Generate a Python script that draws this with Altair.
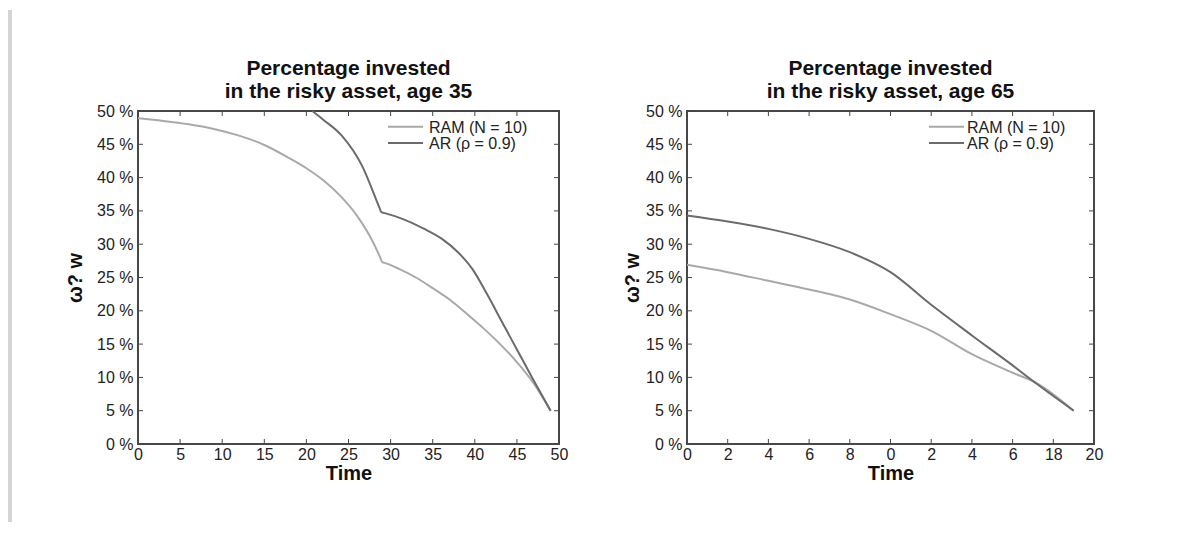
import altair as alt
import pandas as pd

FONT = "Liberation Sans"
LIGHT = "#a9a9a9"
DARK = "#6b6b6b"
FRAME = "#474747"
TXT = "#222222"

SERIES = ["RAM", "AR"]
LEGEND_LABELS = ["RAM (N = 10)", "AR (\u03c1 = 0.9)"]

# ---- Panel 1: age 35 ----
p1_ram_t = [0, 3, 6, 9, 12, 15, 18, 20, 22, 24, 26, 27.5, 28.8, 29, 29.3, 31, 33, 35, 37, 39, 41, 43, 45, 47, 49]
p1_ram_v = [48.9, 48.5, 48.0, 47.3, 46.3, 44.9, 42.9, 41.4, 39.6, 37.3, 34.3, 31.3, 27.9, 27.3, 27.2,
            26.3, 25.0, 23.4, 21.7, 19.6, 17.4, 15.0, 12.3, 9.1, 5.0]
p1_ar_t = [20.7, 22, 24.2, 26.6, 28.7, 28.9, 29.2, 31.4, 34, 36.1, 38, 39.7, 41.5, 43.2, 45, 46.8, 49]
p1_ar_v = [50.0, 48.7, 46.3, 41.8, 35.4, 34.8, 34.7, 33.8, 32.3, 30.8, 28.8, 26.3, 22.4, 18.4, 14.2, 10.0, 5.0]
p1_x_ticks = [0, 5, 10, 15, 20, 25, 30, 35, 40, 45, 50]
p1_x_labels = ["0", "5", "10", "15", "20", "25", "30", "35", "40", "45", "50"]

# ---- Panel 2: age 65 ----
p2_ram_t = [0, 2, 4, 6, 8, 10, 12, 14, 16, 17.2, 19]
p2_ram_v = [26.9, 25.8, 24.5, 23.2, 21.7, 19.5, 17.0, 13.5, 10.7, 9.1, 5.0]
p2_ar_t = [0, 2, 4, 6, 8, 10, 12, 14, 16, 17.2, 19]
p2_ar_v = [34.3, 33.4, 32.3, 30.8, 28.8, 25.8, 20.9, 16.3, 11.8, 9.0, 5.0]
p2_x_ticks = [0, 2, 4, 6, 8, 10, 12, 14, 16, 18, 20]
p2_x_labels = ["0", "2", "4", "6", "8", "0", "2", "4", "6", "18", "20"]

y_ticks = [0, 5, 10, 15, 20, 25, 30, 35, 40, 45, 50]

H = 333


def make_df(ram_t, ram_v, ar_t, ar_v):
    rows = [{"t": t, "v": v, "series": "RAM"} for t, v in zip(ram_t, ram_v)]
    rows += [{"t": t, "v": v, "series": "AR"} for t, v in zip(ar_t, ar_v)]
    return pd.DataFrame(rows)


def panel(df, xticks, xlabels, title2, W, ytp, leg_x, leg_lab_x, leg_y):
    step = xticks[1] - xticks[0]
    arr = "[" + ",".join("'%s'" % s for s in xlabels) + "]"
    xexpr = arr + "[round(datum.value / %s)]" % step
    x_enc = alt.X(
        "t:Q",
        scale=alt.Scale(domain=[xticks[0], xticks[-1]], nice=False, zero=False),
        axis=alt.Axis(values=xticks, ticks=False, domain=False, grid=False,
                      labelExpr=xexpr, title="Time", labelFontSize=16,
                      titleFontSize=20, titleFontWeight="bold", labelPadding=2,
                      titlePadding=1, labelColor=TXT, titleColor="#111",
                      labelFont=FONT, titleFont=FONT, labelFlush=False,
                      labelOverlap=False),
    )
    y_enc = alt.Y(
        "v:Q",
        scale=alt.Scale(domain=[0, 50], nice=False),
        axis=alt.Axis(values=y_ticks, ticks=False, domain=False, grid=False,
                      labelExpr="datum.value + ' %'", title="\u03c9? w",
                      labelFontSize=16, titleFontSize=20, titleFontWeight="bold",
                      labelPadding=5, titlePadding=ytp, labelColor=TXT,
                      titleColor="#111", labelFont=FONT, titleFont=FONT,
                      labelOverlap=False),
    )
    color = alt.Color("series:N", scale=alt.Scale(domain=SERIES, range=[LIGHT, DARK]), legend=None)

    lines = alt.Chart(df).mark_line(strokeWidth=2, interpolate="monotone").encode(
        x=x_enc, y=y_enc, color=color, order="t:Q")

    xt = pd.DataFrame({"t": xticks})
    yt = pd.DataFrame({"v": y_ticks})
    tk = dict(color=FRAME, strokeWidth=1)
    bot = alt.Chart(xt).mark_rule(**tk).encode(x=x_enc, y=alt.value(H), y2=alt.value(H - 5))
    top = alt.Chart(xt).mark_rule(**tk).encode(x=x_enc, y=alt.value(0), y2=alt.value(5))
    lft = alt.Chart(yt).mark_rule(**tk).encode(y=y_enc, x=alt.value(0), x2=alt.value(5))
    rgt = alt.Chart(yt).mark_rule(**tk).encode(y=y_enc, x=alt.value(W - 5), x2=alt.value(W))

    leg_df = pd.DataFrame({"series": SERIES, "label": LEGEND_LABELS})
    legs = []
    for i, (s, c) in enumerate(zip(SERIES, [LIGHT, DARK])):
        yy = leg_y + 16.2 * i
        base = alt.Chart(leg_df).transform_filter(alt.datum.series == s)
        legs.append(base.mark_rule(color=c, strokeWidth=2).encode(
            x=alt.value(leg_x), x2=alt.value(leg_x + 35), y=alt.value(yy)))
        legs.append(base.mark_text(align="left", baseline="middle", fontSize=16,
                                   font=FONT, color=TXT).encode(
            x=alt.value(leg_lab_x), y=alt.value(yy + 1), text="label:N"))

    return alt.layer(lines, bot, top, lft, rgt, *legs).properties(
        width=W, height=H,
        view=alt.ViewBackground(stroke=FRAME, strokeWidth=2),
        title=alt.TitleParams(
            text=["Percentage invested", title2], fontSize=21, fontWeight="bold",
            font=FONT, color="#111", anchor="middle", frame="group",
            offset=-20, lineHeight=23, baseline="bottom"),
    )


df1 = make_df(p1_ram_t, p1_ram_v, p1_ar_t, p1_ar_v)
df2 = make_df(p2_ram_t, p2_ram_v, p2_ar_t, p2_ar_v)

p1 = panel(df1, p1_x_ticks, p1_x_labels, "in the risky asset, age 35", 421, 11, 250, 291, 15.8)
p2 = panel(df2, p2_x_ticks, p2_x_labels, "in the risky asset, age 65", 407, 3, 242, 280, 15.8)

band = alt.Chart(pd.DataFrame({"a": [0]})).mark_rule(color="#d4d4d4", strokeWidth=4).encode(
    x=alt.value(2), y=alt.value(-101), y2=alt.value(411)
).properties(width=4, height=H)

chart = alt.hconcat(band, p1, p2, spacing=52).properties(
    padding=0, background="white"
).configure_view(strokeWidth=0)

chart.save("out.html", embed_options={"renderer": "svg", "actions": False})
